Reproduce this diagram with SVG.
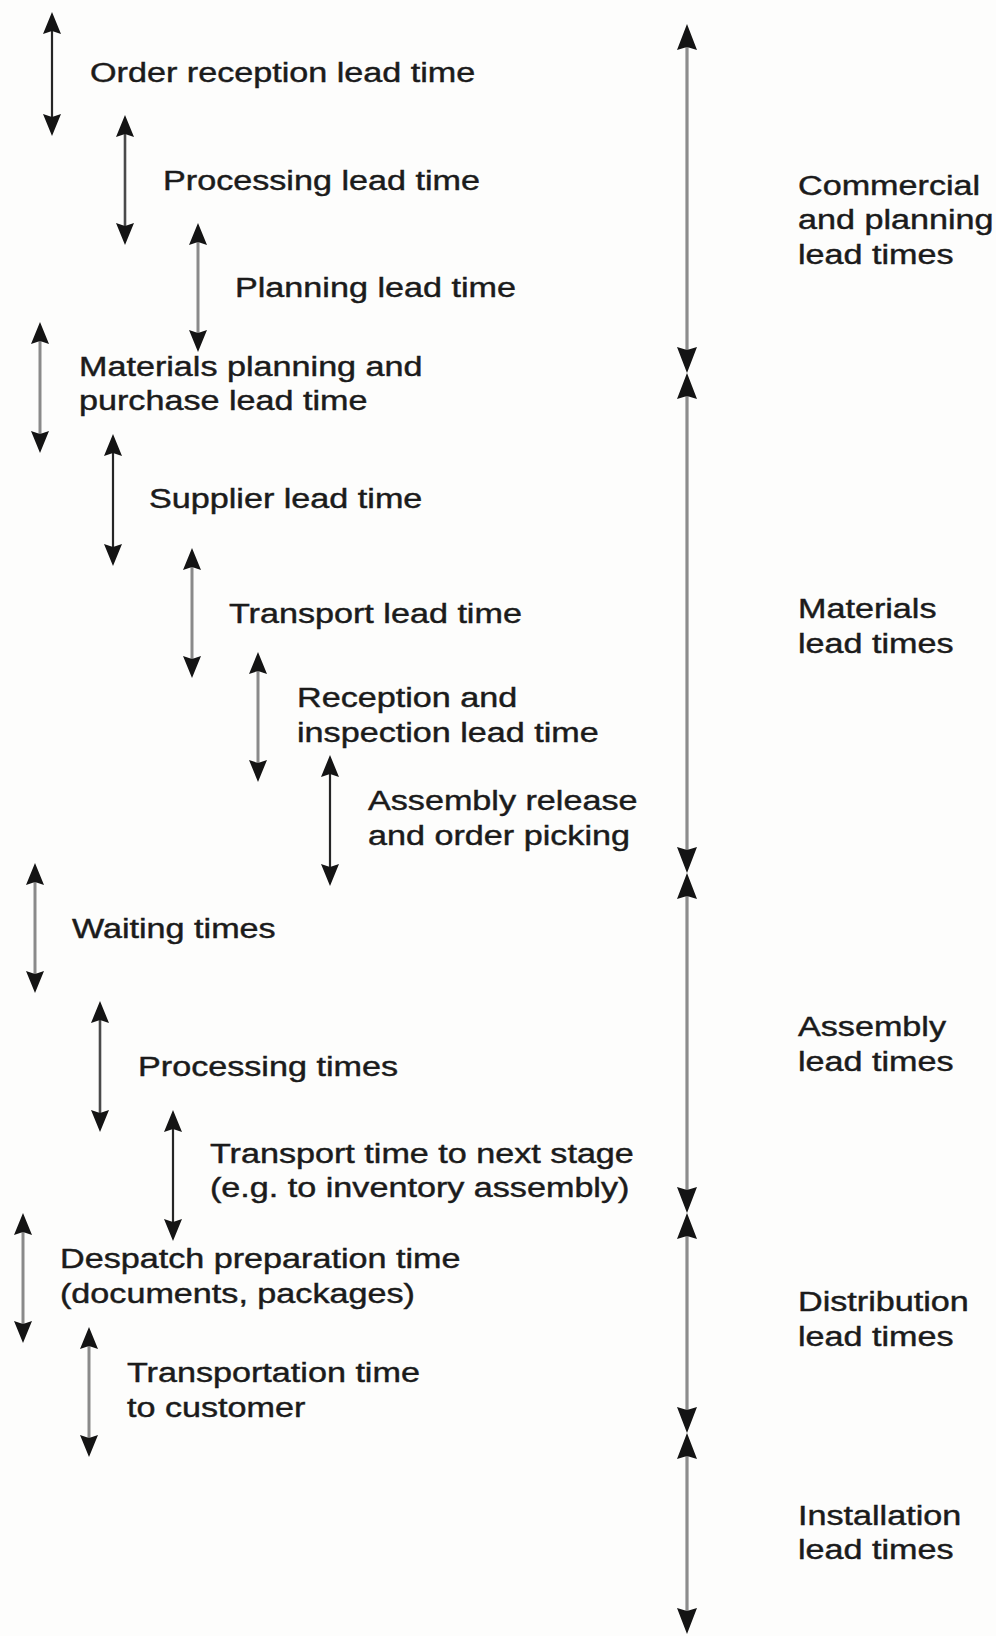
<svg xmlns="http://www.w3.org/2000/svg" width="996" height="1636" viewBox="0 0 996 1636">
  <style>
    .lbl { font-family: "Liberation Sans", Arial, Helvetica, sans-serif; font-size: 28px; fill: #1b1b1b; stroke: #1b1b1b; stroke-width: 0.45; }
    .dk { stroke: #262626; stroke-width: 2.2; fill: none; }
    .md { stroke: #4a4a4a; stroke-width: 2.6; fill: none; }
    .gr { stroke: #8a8a8a; stroke-width: 3; fill: none; }
    .span { stroke: #8c8c8c; stroke-width: 3.2; fill: none; }
  </style>
  <defs>
    <!-- small double-headed arrow tip for the individual lead times -->
    <marker id="tip" markerUnits="userSpaceOnUse" markerWidth="22" markerHeight="18" viewBox="0 0 22 18" refX="11" refY="9" orient="auto-start-reverse">
      <path d="M0,0 L22,9 L0,18 L3,9 Z" fill="#141414"/>
    </marker>
    <!-- larger tip for the phase spans on the right -->
    <marker id="tipR" markerUnits="userSpaceOnUse" markerWidth="26" markerHeight="20" viewBox="0 0 26 20" refX="13" refY="10" orient="auto-start-reverse">
      <path d="M0,0 L26,10 L0,20 L3,10 Z" fill="#141414"/>
    </marker>
  </defs>

  <rect x="0" y="0" width="996" height="1636" fill="#fdfdfc"/>

  <!-- phase spans -->
  <g id="connectors">
    <line class="span" x1="687" y1="37" x2="687" y2="360" marker-start="url(#tipR)" marker-end="url(#tipR)"/>
    <line class="span" x1="687" y1="386" x2="687" y2="860" marker-start="url(#tipR)" marker-end="url(#tipR)"/>
    <line class="span" x1="687" y1="886" x2="687" y2="1200" marker-start="url(#tipR)" marker-end="url(#tipR)"/>
    <line class="span" x1="687" y1="1226" x2="687" y2="1420" marker-start="url(#tipR)" marker-end="url(#tipR)"/>
    <line class="span" x1="687" y1="1446" x2="687" y2="1621" marker-start="url(#tipR)" marker-end="url(#tipR)"/>
  </g>

  <!-- phase labels -->
  <g id="phase-commercial">
    <text class="lbl" transform="translate(798,195) scale(1.22,1)"><tspan x="0" dy="0">Commercial</tspan><tspan x="0" dy="34.5">and planning</tspan><tspan x="0" dy="34.5">lead times</tspan></text>
  </g>
  <g id="phase-materials">
    <text class="lbl" transform="translate(798,618) scale(1.22,1)"><tspan x="0" dy="0">Materials</tspan><tspan x="0" dy="35">lead times</tspan></text>
  </g>
  <g id="phase-assembly">
    <text class="lbl" transform="translate(798,1036) scale(1.22,1)"><tspan x="0" dy="0">Assembly</tspan><tspan x="0" dy="35">lead times</tspan></text>
  </g>
  <g id="phase-distribution">
    <text class="lbl" transform="translate(798,1311) scale(1.22,1)"><tspan x="0" dy="0">Distribution</tspan><tspan x="0" dy="35">lead times</tspan></text>
  </g>
  <g id="phase-installation">
    <text class="lbl" transform="translate(798,1525) scale(1.22,1)"><tspan x="0" dy="0">Installation</tspan><tspan x="0" dy="34">lead times</tspan></text>
  </g>

  <!-- individual lead times -->
  <g id="order-reception">
    <line class="dk" x1="52" y1="23" x2="52" y2="125" marker-start="url(#tip)" marker-end="url(#tip)"/>
    <text class="lbl" transform="translate(90,82) scale(1.22,1)">Order reception lead time</text>
  </g>
  <g id="processing">
    <line class="md" x1="125" y1="126" x2="125" y2="234" marker-start="url(#tip)" marker-end="url(#tip)"/>
    <text class="lbl" transform="translate(163,190) scale(1.22,1)">Processing lead time</text>
  </g>
  <g id="planning">
    <line class="gr" x1="198" y1="234" x2="198" y2="341" marker-start="url(#tip)" marker-end="url(#tip)"/>
    <text class="lbl" transform="translate(235,297) scale(1.22,1)">Planning lead time</text>
  </g>
  <g id="materials-planning">
    <line class="gr" x1="40" y1="333" x2="40" y2="442" marker-start="url(#tip)" marker-end="url(#tip)"/>
    <text class="lbl" transform="translate(79,376) scale(1.22,1)"><tspan x="0" dy="0">Materials planning and</tspan><tspan x="0" dy="34">purchase lead time</tspan></text>
  </g>
  <g id="supplier">
    <line class="dk" x1="113" y1="445" x2="113" y2="555" marker-start="url(#tip)" marker-end="url(#tip)"/>
    <text class="lbl" transform="translate(149,508) scale(1.22,1)">Supplier lead time</text>
  </g>
  <g id="transport">
    <line class="gr" x1="192" y1="559" x2="192" y2="667" marker-start="url(#tip)" marker-end="url(#tip)"/>
    <text class="lbl" transform="translate(229,623) scale(1.22,1)">Transport lead time</text>
  </g>
  <g id="reception-inspection">
    <line class="gr" x1="258" y1="663" x2="258" y2="771" marker-start="url(#tip)" marker-end="url(#tip)"/>
    <text class="lbl" transform="translate(297,707) scale(1.22,1)"><tspan x="0" dy="0">Reception and</tspan><tspan x="0" dy="35">inspection lead time</tspan></text>
  </g>
  <g id="assembly-release">
    <line class="dk" x1="330" y1="766" x2="330" y2="875" marker-start="url(#tip)" marker-end="url(#tip)"/>
    <text class="lbl" transform="translate(368,810) scale(1.22,1)"><tspan x="0" dy="0">Assembly release</tspan><tspan x="0" dy="35">and order picking</tspan></text>
  </g>
  <g id="waiting">
    <line class="gr" x1="35" y1="874" x2="35" y2="982" marker-start="url(#tip)" marker-end="url(#tip)"/>
    <text class="lbl" transform="translate(72,938) scale(1.22,1)">Waiting times</text>
  </g>
  <g id="processing-times">
    <line class="md" x1="100" y1="1012" x2="100" y2="1121" marker-start="url(#tip)" marker-end="url(#tip)"/>
    <text class="lbl" transform="translate(138,1076) scale(1.22,1)">Processing times</text>
  </g>
  <g id="transport-next-stage">
    <line class="dk" x1="173" y1="1121" x2="173" y2="1230" marker-start="url(#tip)" marker-end="url(#tip)"/>
    <text class="lbl" transform="translate(210,1163) scale(1.22,1)"><tspan x="0" dy="0">Transport time to next stage</tspan><tspan x="0" dy="34">(e.g. to inventory assembly)</tspan></text>
  </g>
  <g id="despatch">
    <line class="gr" x1="23" y1="1224" x2="23" y2="1332" marker-start="url(#tip)" marker-end="url(#tip)"/>
    <text class="lbl" transform="translate(60,1268) scale(1.22,1)"><tspan x="0" dy="0">Despatch preparation time</tspan><tspan x="0" dy="35">(documents, packages)</tspan></text>
  </g>
  <g id="transport-customer">
    <line class="gr" x1="89" y1="1338" x2="89" y2="1446" marker-start="url(#tip)" marker-end="url(#tip)"/>
    <text class="lbl" transform="translate(127,1382) scale(1.22,1)"><tspan x="0" dy="0">Transportation time</tspan><tspan x="0" dy="35">to customer</tspan></text>
  </g>
</svg>
